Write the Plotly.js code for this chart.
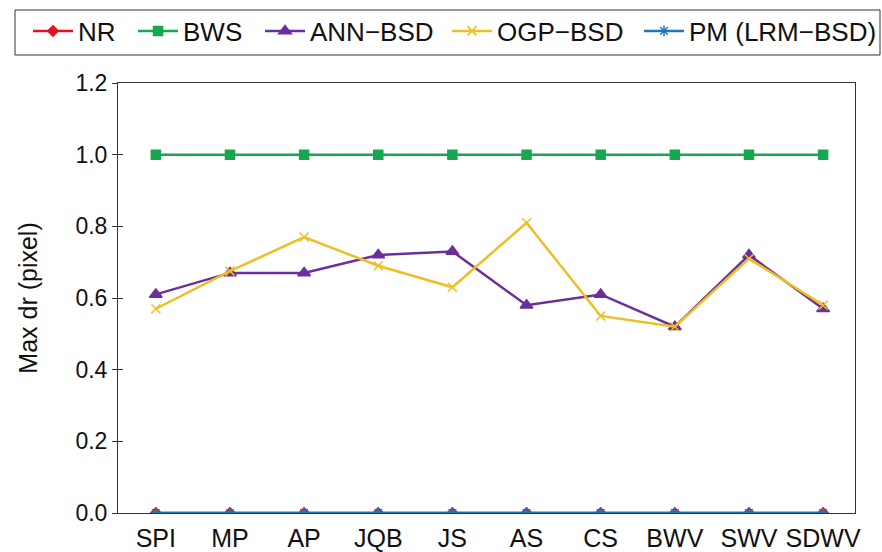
<!DOCTYPE html>
<html><head><meta charset="utf-8">
<script src="https://cdn.plot.ly/plotly-3.0.1.min.js"></script>
<style>html,body{margin:0;padding:0;background:#fff}#chart{width:882px;height:552px}</style>
</head><body><div id="chart"></div>
<script>
const categories = ["SPI","MP","AP","JQB","JS","AS","CS","BWV","SWV","SDWV"];
const nrValues  = [0,0,0,0,0,0,0,0,0,0];
const bwsValues = [1,1,1,1,1,1,1,1,1,1];
const annValues = [0.61,0.67,0.67,0.72,0.73,0.58,0.61,0.52,0.72,0.57];
const ogpValues = [0.57,0.675,0.77,0.69,0.63,0.81,0.55,0.52,0.71,0.58];
const pmValues  = [0,0,0,0,0,0,0,0,0,0];
const yTicks = [0,0.2,0.4,0.6,0.8,1.0,1.2];

const W = 882, H = 552;
const M = {l:118, r:27, t:83, b:39};
const PW = W - M.l - M.r, PH = H - M.t - M.b;
const xIdx = categories.map((c,i)=>i);
const legendNames = ['legend','legend2','legend3','legend4','legend5'];
function tr(name, y, color, symbol, size, k){
  return {x:xIdx, y:y, name:name, type:'scatter', mode:'lines+markers',
    legend: legendNames[k],
    line:{color:color, width:2.5},
    marker:{symbol:symbol, size:size, color:color, line:{color:color, width:1.5}}};
}
const data = [
  tr('NR', nrValues, '#e3131e', 'diamond', 8, 0),
  tr('BWS', bwsValues, '#16a850', 'square', 9, 1),
  tr('ANN\u2212BSD', annValues, '#6a2f9b', 'triangle-up', 11, 2),
  tr('OGP\u2212BSD', ogpValues, '#eebf22', 'x-thin', 9, 3),
  tr('PM (LRM\u2212BSD)', pmValues, '#2176bd', 'asterisk', 9, 4)
];
const legendX = [28, 133, 260, 447, 639];
const layout = {
  width:W, height:H,
  margin:M,
  paper_bgcolor:'#fff', plot_bgcolor:'#fff',
  font:{family:'Liberation Sans, Arial, sans-serif', size:23, color:'#111'},
  showlegend:true,
  xaxis:{range:[-0.51,9.43], tickmode:'array', tickvals:xIdx, ticktext:categories,
    showgrid:false, zeroline:false, showline:true, linecolor:'#333', linewidth:1,
    mirror:true, ticks:'outside', ticklen:3, tickcolor:'rgba(0,0,0,0)', tickfont:{size:25, color:'#111'}},
  yaxis:{range:[0,1.2], tickmode:'array', tickvals:yTicks,
    ticktext:yTicks.map(v=>v.toFixed(1)),
    showgrid:false, zeroline:false, showline:true, linecolor:'#333', linewidth:1,
    mirror:true, ticks:'outside', ticklen:5, tickcolor:'#333', tickfont:{size:23, color:'#111'},
    title:{text:'Max dr (pixel)', font:{size:25}, standoff:30}},
  yaxis2:{overlaying:'y', matches:'y', side:'left', showticklabels:false, showline:false,
    showgrid:false, zeroline:false, ticks:'inside', ticklen:5, tickcolor:'#333',
    tickmode:'array', tickvals:yTicks},
  shapes:[{type:'rect', xref:'paper', yref:'paper',
    x0:(15-M.l)/PW, x1:(880-M.l)/PW, y0:(H-M.b-55)/PH, y1:(H-M.b-10)/PH,
    line:{color:'#333', width:1}, fillcolor:'rgba(0,0,0,0)'}]
};
legendNames.forEach((ln,k)=>{
  layout[ln] = {orientation:'h', xref:'container', yref:'container',
    x:legendX[k]/W, xanchor:'left', y:1-31/H, yanchor:'middle',
    borderwidth:0, bgcolor:'rgba(0,0,0,0)', itemwidth:40,
    font:{size:26, color:'#111'}};
});
// invisible helper trace so the inside tick marks of yaxis2 are drawn
data.push({x:[0], y:[0], yaxis:'y2', mode:'markers', marker:{opacity:0}, showlegend:false, hoverinfo:'skip'});
Plotly.newPlot('chart', data, layout, {displayModeBar:false});
</script></body></html>
